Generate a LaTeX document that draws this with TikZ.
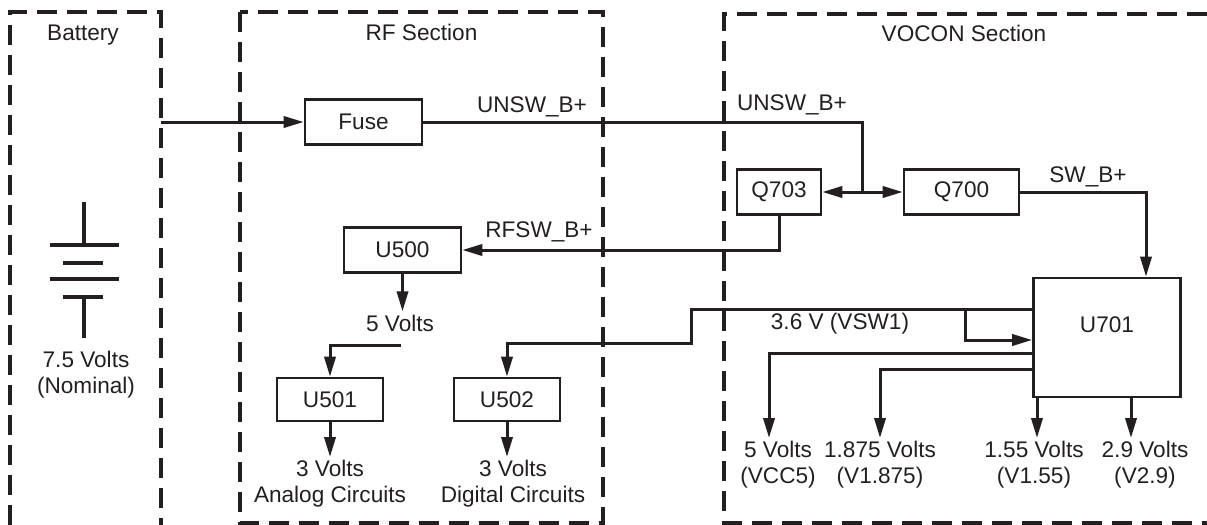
\documentclass[tikz,border=0pt]{standalone}
\usepackage{fontspec}
\setmainfont{Liberation Sans}
\usepackage{xcolor}
\definecolor{schInk}{HTML}{231F20}
\usepackage{tikz}
\usetikzlibrary{arrows.meta,positioning}

\begin{document}
\begin{tikzpicture}[
    x=0.5pt, y=-0.5pt,
    every node/.style={font=\fontsize{11.3}{13}\selectfont, text=schInk},
    sect/.style={draw=schInk, line width=1.6pt, dash pattern=on 10pt off 5pt},
    blk/.style={draw=schInk, line width=1.3pt, inner sep=0pt, minimum width=58.5pt, minimum height=22.5pt},
    wire/.style={draw=schInk, line width=1.5pt},
    arr/.style={wire, -{Triangle[length=10pt,width=5.6pt]}},
    lbl/.style={align=center, inner sep=1.5pt},
    head/.style={anchor=base}
  ]
    \useasboundingbox (0,0) rectangle (1207,525);
    \draw[sect] (10,525) |- (161,12) -- (161,525);
    \draw[sect] (240,12) rectangle (603,523);
    \draw[sect] (1207,14) -| (724,523) -- (1207,523);
    \node[head] (batt) at (83,40) {Battery};
    \node[head] (rfsec) at (421.5,40) {RF Section};
    \node[head] (vocsec) at (964,41) {VOCON Section};

    \draw[wire, line width=1.6pt] (84,202) -- (84,245) (50,245) -- (119,245) (63,263) -- (103,263)
      (50,279) -- (119,279) (63,297) -- (103,297) (84,297) -- (84,338);
    \node[lbl] (bv) at (86,375) {7.5 Volts\\(Nominal)};

    \node[blk] (fuse) at (363.5,122) {Fuse};
    \node[blk] (u500) at (402.5,250) {U500};
    \node[blk, minimum width=53pt, minimum height=21.5pt] (u501) at (330,399.5) {U501};
    \node[blk, minimum width=53pt, minimum height=21.5pt] (u502) at (507,399.5) {U502};
    \node[lbl] (v5rf) at (400,323) {5 Volts};
    \node[lbl, anchor=north] (ana) at (330,457) {3 Volts\\Analog Circuits};
    \node[lbl, anchor=north] (dig) at (513,457) {3 Volts\\Digital Circuits};

    \node[blk, minimum width=42pt] (q703) at (779,192) {Q703};
    \node[blk, minimum width=57.5pt] (q700) at (961.5,192) {Q700};
    \node[blk, minimum width=73.5pt, minimum height=59.5pt,
      label={[name=u701txt, yshift=6.25pt]center:U701}] (u701) at (1107,337.5) {};
    \node[lbl, anchor=north] (vcc5) at (778,438) {5 Volts\\(VCC5)};
    \node[lbl, anchor=north] (v1875) at (880,438) {1.875 Volts\\(V1.875)};
    \node[lbl, anchor=north] (v155) at (1034,438) {1.55 Volts\\(V1.55)};
    \node[lbl, anchor=north] (v29) at (1145,438) {2.9 Volts\\(V2.9)};

    \node (unsw1) at (532,107) {UNSW\_B+};
    \node (unsw2) at (792,105) {UNSW\_B+};
    \node (rfsw) at (539,232) {RFSW\_B+};
    \node (swb) at (1088,177) {SW\_B+};
    \node (vsw) at (840,324) {3.6 V (VSW1)};

    \coordinate (batout) at (161,122);
    \coordinate (jn) at (862,192);
    \coordinate (v5out) at (401,345);
    \coordinate (tap) at (965,309);
    \draw[arr] (batout) -- (fuse);
    \draw[wire] (fuse) -- (fuse -| jn) -- (jn);
    \draw[arr] (jn) -- (q703);
    \draw[arr] (jn) -- (q700);
    \draw[arr] (q700) -| ([xshift=19.5pt]u701.north);
    \draw[arr] (q703) |- (u500);
    \draw[arr] (u500) -- (u500 |- v5rf.north);
    \draw[arr] (v5out) -| (u501);
    \draw[arr] (u501) -- (ana);
    \draw[arr] (u502) -- (u502 |- dig.north);
    \draw[arr] ([yshift=14.25pt]u701.west) -| (691,343) -| (u502);
    \draw[arr] (tap) |- ([yshift=-1.25pt]u701.west);
    \draw[arr] ([yshift=-7.75pt]u701.west) -| ([xshift=-4.5pt]vcc5.north);
    \draw[arr] ([yshift=-15.75pt]u701.west) -| (v1875.north);
    \draw[arr] ([xshift=-35pt]u701.south) -- ([xshift=-35pt]u701.south |- v155.north);
    \draw[arr] ([xshift=12pt]u701.south) -- ([xshift=12pt]u701.south |- v29.north);
  \end{tikzpicture}
\end{document}
